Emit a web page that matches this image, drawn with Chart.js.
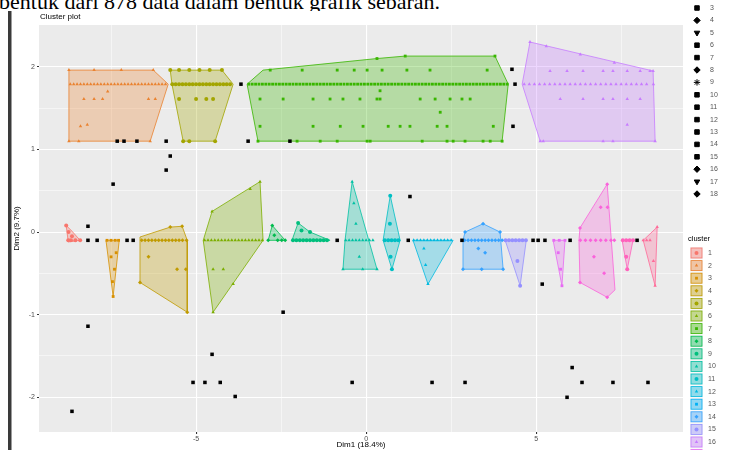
<!DOCTYPE html>
<html>
<head>
<meta charset="utf-8">
<script src="https://cdn.jsdelivr.net/npm/chart.js@4.4.1/dist/chart.umd.min.js"></script>
<style>
html, body { margin: 0; padding: 0; background: #fff; }
#wrap { position: relative; width: 733px; height: 450px; overflow: hidden; }
#doc { position: absolute; left: -1px; top: -11px; font: 22px "Liberation Serif", serif; color: #000; white-space: nowrap; }
#chart { position: absolute; left: 0; top: 0; }
</style>
</head>
<body>
<div id="wrap">
  <div id="doc">bentuk dari 878 data dalam bentuk grafik sebaran.</div>
  <canvas id="chart" width="733" height="450"></canvas>
</div>
<script>
// axis ticks (minor ones get a grid line but no label)
const xTicks = [-7.5, -5, -2.5, 0, 2.5, 5, 7.5];
const xMajor = [-5, 0, 5];
const yTicks = [-2, -1.5, -1, -0.5, 0, 0.5, 1, 1.5, 2];
const yMajor = [-2, -1, 0, 1, 2];

const plotTitle = 'Cluster plot';
const xTitle = 'Dim1 (18.4%)';
const yTitle = 'Dim2 (9.7%)';

const clusterIds = ['1','2','3','4','5','6','7','8','9','10','11','12','13','14','15','16','17','18','19','20'];
const shapeIds = ['3','4','5','6','7','8','9','10','11','12','13','14','15','16','17','18'];
const palette = ['#F8766D','#EA8331','#D89000','#C09B00','#A3A500','#7CAE00','#39B600','#00BB4E','#00BF7D','#00C1A3',
                 '#00BFC4','#00BAE0','#00B0F6','#35A2FF','#9590FF','#C77CFF','#E76BF3','#FA62DB','#FF62BC','#FF6A98'];

// hulls and member points, per cluster
const hull1 = [[-8.82,0.08],[-8.65,0.01],[-8.41,-0.10],[-8.76,-0.12]];
const pts1 = [[-8.82,0.08],[-8.75,0.0],[-8.65,-0.05],[-8.55,-0.1],[-8.76,-0.1],[-8.68,-0.1],[-8.41,-0.1]];

const hull2 = [[-8.74,1.96],[-6.26,1.96],[-5.82,1.79],[-6.35,1.10],[-8.74,1.10]];
const pts2 = [[-8.7,1.79],[-8.6,1.79],[-8.5,1.79],[-8.4,1.79],[-8.3,1.79],[-8.2,1.79],[-8.1,1.79],[-8.0,1.79],[-7.9,1.79],
  [-7.8,1.79],[-7.7,1.79],[-7.6,1.79],[-7.5,1.79],[-7.4,1.79],[-7.3,1.79],[-7.2,1.79],[-7.1,1.79],[-7.0,1.79],[-6.9,1.79],
  [-6.8,1.79],[-6.7,1.79],[-6.6,1.79],[-6.5,1.79],[-6.4,1.79],[-6.3,1.79],[-6.2,1.79],[-6.1,1.79],[-6.0,1.79],[-5.9,1.79],
  [-8.74,1.96],[-8.0,1.96],[-7.2,1.96],[-6.26,1.96],[-7.6,1.70],[-8.3,1.61],[-8.0,1.61],[-7.75,1.61],
  [-6.4,1.61],[-6.2,1.61],[-8.4,1.28],[-8.2,1.30],[-8.74,1.10],[-8.45,1.10],[-6.35,1.10]];

const hull3 = [[-7.65,-0.10],[-7.26,-0.10],[-7.44,-0.78]];
const pts3 = [[-7.62,-0.1],[-7.5,-0.1],[-7.38,-0.1],[-7.28,-0.1],[-7.5,-0.3],[-7.35,-0.25],[-7.4,-0.45],[-7.46,-0.6],[-7.44,-0.78]];

const hull4 = [[-6.65,-0.06],[-5.76,0.06],[-5.41,0.07],[-5.26,-0.10],[-5.26,-0.97],[-6.65,-0.61]];
const pts4 = [[-6.6,-0.1],[-6.5,-0.1],[-6.4,-0.1],[-6.3,-0.1],[-6.2,-0.1],[-6.1,-0.1],[-6.0,-0.1],[-5.9,-0.1],[-5.8,-0.1],
  [-5.7,-0.1],[-5.6,-0.1],[-5.5,-0.1],[-5.4,-0.1],[-5.28,-0.1],
  [-5.76,0.06],[-5.41,0.07],[-6.4,-0.3],[-5.56,-0.45],[-5.3,-0.45],[-6.65,-0.61],[-5.26,-0.97]];

const hull5 = [[-5.76,1.96],[-4.24,1.96],[-3.91,1.79],[-4.44,1.10],[-5.38,1.10],[-5.71,1.79]];
const pts5 = [[-5.7,1.79],[-5.6,1.79],[-5.5,1.79],[-5.4,1.79],[-5.3,1.79],[-5.2,1.79],[-5.1,1.79],[-5.0,1.79],[-4.9,1.79],
  [-4.8,1.79],[-4.7,1.79],[-4.6,1.79],[-4.5,1.79],[-4.4,1.79],[-4.3,1.79],[-4.2,1.79],[-4.1,1.79],[-4.0,1.79],
  [-5.76,1.96],[-5.5,1.96],[-5.2,1.96],[-4.9,1.96],[-4.6,1.96],[-4.24,1.96],
  [-5.5,1.61],[-5.0,1.61],[-4.7,1.61],[-4.5,1.61],[-5.38,1.10],[-5.2,1.10],[-4.44,1.10]];

const hull6 = [[-4.79,-0.10],[-4.53,0.25],[-3.12,0.61],[-3.03,-0.10],[-4.5,-0.97]];
const pts6 = [[-4.75,-0.1],[-4.65,-0.1],[-4.55,-0.1],[-4.45,-0.1],[-4.35,-0.1],[-4.25,-0.1],[-4.15,-0.1],[-4.05,-0.1],
  [-3.95,-0.1],[-3.85,-0.1],[-3.75,-0.1],[-3.65,-0.1],[-3.55,-0.1],[-3.45,-0.1],[-3.35,-0.1],[-3.25,-0.1],[-3.15,-0.1],[-3.05,-0.1],
  [-4.53,0.25],[-3.12,0.61],[-3.41,0.52],[-4.5,-0.45],[-4.2,-0.45],[-3.91,-0.63],[-4.5,-0.97]];

const hull7 = [[-3.5,1.79],[-3.03,1.96],[0.32,2.10],[1.15,2.13],[3.79,2.13],[4.18,1.79],[4.0,1.10],[-3.18,1.10]];
const pts7 = [[-3.45,1.79],[-3.35,1.79],[-3.25,1.79],[-3.15,1.79],[-3.05,1.79],[-2.95,1.79],[-2.85,1.79],[-2.75,1.79],
  [-2.65,1.79],[-2.55,1.79],[-2.45,1.79],[-2.35,1.79],[-2.25,1.79],[-2.15,1.79],[-2.05,1.79],[-1.95,1.79],[-1.85,1.79],
  [-1.75,1.79],[-1.65,1.79],[-1.55,1.79],[-1.45,1.79],[-1.35,1.79],[-1.25,1.79],[-1.15,1.79],[-1.05,1.79],[-0.95,1.79],
  [-0.85,1.79],[-0.75,1.79],[-0.65,1.79],[-0.55,1.79],[-0.45,1.79],[-0.35,1.79],[-0.25,1.79],[-0.15,1.79],[-0.05,1.79],
  [0.05,1.79],[0.15,1.79],[0.25,1.79],[0.35,1.79],[0.45,1.79],[0.55,1.79],[0.65,1.79],[0.75,1.79],[0.85,1.79],[0.95,1.79],
  [1.05,1.79],[1.15,1.79],[1.25,1.79],[1.35,1.79],[1.45,1.79],[1.55,1.79],[1.65,1.79],[1.75,1.79],[1.85,1.79],[1.95,1.79],
  [2.05,1.79],[2.15,1.79],[2.25,1.79],[2.35,1.79],[2.45,1.79],[2.55,1.79],[2.65,1.79],[2.75,1.79],[2.85,1.79],[2.95,1.79],
  [3.05,1.79],[3.15,1.79],[3.25,1.79],[3.35,1.79],[3.45,1.79],[3.55,1.79],[3.65,1.79],[3.75,1.79],[3.85,1.79],[3.95,1.79],
  [4.05,1.79],[4.15,1.79],
  [-2.82,1.96],[-1.88,1.96],[-0.85,1.96],[-0.35,1.96],[0.03,1.96],[0.47,1.96],[1.2,1.96],[1.88,1.96],[3.56,1.96],
  [0.32,2.10],[1.15,2.13],[3.79,2.13],
  [-3.12,1.61],[-2.44,1.61],[-1.56,1.61],[-1.06,1.61],[-0.68,1.61],[-0.18,1.61],[0.32,1.61],[0.41,1.61],[1.59,1.61],
  [2.03,1.61],[2.47,1.61],[2.82,1.61],[3.06,1.61],[0.41,1.71],[2.18,1.45],
  [-3.12,1.28],[-1.56,1.28],[-0.76,1.28],[-0.09,1.28],[0.65,1.28],[1.0,1.28],[1.29,1.28],[2.09,1.28],[2.38,1.28],[3.74,1.28],
  [-3.18,1.10],[-2.03,1.10],[-1.35,1.10],[-0.85,1.10],[0.03,1.10],[0.12,1.10],[1.65,1.10],[2.38,1.10],[2.56,1.10],
  [2.91,1.10],[3.44,1.10],[3.65,1.10],[4.0,1.10]];

const hull8 = [[-2.88,-0.10],[-2.76,0.08],[-2.38,-0.10]];
const pts8 = [[-2.88,-0.1],[-2.76,0.08],[-2.7,-0.04],[-2.6,-0.1],[-2.48,-0.1],[-2.38,-0.1]];

const hull9 = [[-2.18,-0.10],[-2.0,0.11],[-1.65,0.0],[-1.06,-0.10]];
const pts9 = [[-2.15,-0.1],[-2.05,-0.1],[-1.95,-0.1],[-1.85,-0.1],[-1.75,-0.1],[-1.65,-0.1],[-1.55,-0.1],[-1.45,-0.1],
  [-1.35,-0.1],[-1.25,-0.1],[-1.15,-0.1],[-2.0,0.11],[-1.65,0.0],[-1.9,0.02]];

const hull10 = [[-0.41,0.61],[0.32,-0.45],[-0.68,-0.45],[-0.62,-0.10]];
const pts10 = [[-0.41,0.61],[-0.36,0.35],[-0.3,0.1],[-0.6,-0.1],[-0.5,-0.1],[-0.4,-0.1],[-0.3,-0.1],[-0.2,-0.1],[-0.1,-0.1],
  [0.0,-0.1],[0.1,-0.1],[0.2,-0.1],[-0.2,-0.3],[0.32,-0.45],[-0.68,-0.45],[-0.1,-0.45]];

const hull11 = [[0.71,0.44],[1.0,-0.10],[0.76,-0.45],[0.5,-0.10]];
const pts11 = [[0.71,0.44],[0.7,0.1],[0.55,-0.1],[0.65,-0.1],[0.75,-0.1],[0.85,-0.1],[0.95,-0.1],[0.72,-0.3],[0.76,-0.45]];

const hull12 = [[1.38,-0.10],[2.56,-0.10],[1.82,-0.63]];
const pts12 = [[1.4,-0.1],[1.5,-0.1],[1.6,-0.1],[1.7,-0.1],[1.8,-0.1],[1.9,-0.1],[2.0,-0.1],[2.1,-0.1],[2.2,-0.1],[2.3,-0.1],
  [2.4,-0.1],[2.5,-0.1],[1.7,-0.2],[1.75,-0.4],[1.82,-0.63]];

const hull14 = [[2.85,-0.10],[2.91,0.0],[3.44,0.10],[3.94,0.0],[4.03,-0.45],[2.85,-0.45]];
const pts14 = [[2.9,-0.1],[3.0,-0.1],[3.1,-0.1],[3.2,-0.1],[3.3,-0.1],[3.4,-0.1],[3.5,-0.1],[3.6,-0.1],[3.7,-0.1],[3.8,-0.1],
  [3.9,-0.1],[4.0,-0.1],[3.44,0.1],[2.91,0.0],[3.94,0.0],
  [3.3,-0.2],[3.5,-0.25],[2.85,-0.45],[3.4,-0.45],[4.03,-0.45]];

const hull15 = [[4.09,-0.10],[4.71,-0.10],[4.53,-0.65]];
const pts15 = [[4.1,-0.1],[4.2,-0.1],[4.3,-0.1],[4.4,-0.1],[4.5,-0.1],[4.6,-0.1],[4.7,-0.1],[4.45,-0.35],[4.53,-0.65]];

const hull16 = [[4.82,2.30],[8.44,1.95],[8.5,1.10],[5.12,1.10],[4.59,1.79]];
const pts16 = [[4.65,1.79],[4.8,1.79],[4.95,1.79],[5.1,1.79],[5.25,1.79],[5.4,1.79],[5.55,1.79],[5.7,1.79],[5.85,1.79],
  [6.0,1.79],[6.15,1.79],[6.3,1.79],[6.45,1.79],[6.6,1.79],[6.75,1.79],[6.9,1.79],[7.05,1.79],[7.2,1.79],[7.35,1.79],
  [7.5,1.79],[7.65,1.79],[7.8,1.79],[7.95,1.79],[8.1,1.79],[8.25,1.79],[8.45,1.79],
  [5.41,1.95],[5.91,1.95],[6.38,1.95],[6.97,1.95],[7.26,1.95],[7.68,1.95],[8.06,1.95],[8.35,1.95],
  [4.82,2.30],[5.3,2.25],[6.3,2.15],[7.3,2.05],[8.44,1.95],
  [5.71,1.61],[6.38,1.61],[6.97,1.61],[7.26,1.61],[7.68,1.61],[8.06,1.61],[7.68,1.30],
  [5.12,1.10],[5.21,1.10],[6.97,1.10],[7.26,1.10],[8.5,1.10]];

const hull17 = [[5.5,-0.10],[5.85,-0.10],[5.76,-0.65]];
const pts17 = [[5.52,-0.1],[5.68,-0.1],[5.85,-0.1],[5.65,-0.25],[5.72,-0.45],[5.76,-0.65]];

const hull18 = [[6.26,-0.10],[6.29,0.05],[7.09,0.58],[7.32,-0.70],[7.09,-0.79],[6.29,-0.61]];
const pts18 = [[6.3,-0.1],[6.45,-0.1],[6.6,-0.1],[6.75,-0.1],[6.9,-0.1],[7.05,-0.1],[7.2,-0.1],[7.3,-0.1],
  [7.09,0.58],[6.9,0.3],[7.1,0.3],[6.7,-0.3],[7.0,-0.5],[6.29,-0.61],[7.09,-0.79],[6.29,0.05]];

const hull19 = [[7.53,-0.10],[7.85,-0.10],[7.68,-0.45]];
const pts19 = [[7.55,-0.1],[7.65,-0.1],[7.75,-0.1],[7.85,-0.1],[7.65,-0.3],[7.68,-0.45]];

const hull20 = [[8.15,-0.10],[8.56,0.06],[8.5,-0.65]];
const pts20 = [[8.15,-0.1],[8.25,-0.1],[8.35,-0.1],[8.56,0.06],[8.45,-0.35],[8.5,-0.65]];

// noise points (not in any cluster)
const noise = [[-3.68,1.79],[4.29,1.97],[4.38,1.79],[4.32,1.28],
  [-7.32,1.10],[-7.12,1.10],[-6.74,1.10],[-5.88,1.10],[-3.47,1.10],[-2.24,1.10],
  [-5.76,0.92],[-5.88,0.75],[-7.44,0.58],
  [-8.18,0.07],[-8.18,-0.10],[-7.91,-0.10],[-7.03,-0.10],[-6.85,-0.10],
  [-0.85,-0.10],[1.24,-0.10],[1.29,0.43],[2.82,-0.10],
  [4.91,-0.10],[5.06,-0.10],[5.26,-0.10],[5.18,-0.63],[6.0,-0.10],[7.97,-0.10],
  [-2.44,-0.97],[-8.18,-1.14],[-4.53,-1.48],[-5.09,-1.82],[-4.74,-1.82],[-4.29,-1.82],[-3.85,-1.99],[-8.65,-2.17],
  [-0.41,-1.82],[1.94,-1.82],[2.91,-1.82],
  [6.06,-1.64],[6.35,-1.82],[7.26,-1.82],[8.29,-1.82],[5.91,-2.0]];

// which cluster each hull belongs to
const groups = [
  [1, hull1, pts1], [2, hull2, pts2], [3, hull3, pts3], [4, hull4, pts4], [5, hull5, pts5],
  [6, hull6, pts6], [7, hull7, pts7], [8, hull8, pts8], [9, hull9, pts9], [10, hull10, pts10],
  [11, hull11, pts11], [12, hull12, pts12], [14, hull14, pts14], [15, hull15, pts15], [16, hull16, pts16],
  [17, hull17, pts17], [18, hull18, pts18], [19, hull19, pts19], [20, hull20, pts20]
];

const shapes = ['circle','triangle','rect','rectRot','circle','triangle','rect','rectRot','circle','triangle'];
const legendShapes = ['rect','rectRot','triangle','rect','rect','rectRot','star','rect','rect','rect','rect','rect','rect','rectRot','triangle','rectRot'];
const legendRot = [0,0,180,0,0,0,0,0,0,0,0,0,0,0,180,0];

const toXY = arr => arr.map(p => ({ x: p[0], y: p[1] }));

const datasets = [];
groups.forEach(([id, hull, pts]) => {
  const col = palette[id - 1];
  datasets.push({
    type: 'line',
    data: toXY(hull.concat([hull[0]])),
    borderColor: col,
    borderWidth: 0.8,
    backgroundColor: col + '4D',
    fill: 'shape',
    pointRadius: 0,
    tension: 0,
    order: 3
  });
  datasets.push({
    data: toXY(pts),
    pointStyle: shapes[(id - 1) % shapes.length],
    pointRadius: 2,
    backgroundColor: col,
    borderColor: col,
    borderWidth: 0,
    order: 2
  });
});
datasets.push({
  data: toXY(noise),
  pointStyle: 'rect',
  pointRadius: 2.5,
  backgroundColor: '#000',
  borderColor: '#000',
  borderWidth: 0,
  order: 1
});

const frame = {
  id: 'frame',
  beforeDraw(chart) {
    const { ctx, chartArea: a } = chart;
    ctx.save();
    ctx.fillStyle = '#fff';
    ctx.fillRect(11, 11, 722, 439);
    ctx.fillStyle = '#3a3a3a';
    ctx.fillRect(8, 11, 3.5, 439);
    ctx.fillStyle = '#EBEBEB';
    ctx.fillRect(a.left, a.top, a.right - a.left, a.bottom - a.top);
    ctx.restore();
  },
  afterDraw(chart) {
    const { ctx, chartArea: a } = chart;
    ctx.save();
    ctx.textBaseline = 'middle';
    ctx.fillStyle = '#000';
    ctx.font = '8px "Liberation Sans"';
    ctx.fillText(plotTitle, a.left + 1, 17);

    // shape legend (upper right)
    ctx.font = '7px "Liberation Sans"';
    shapeIds.forEach((lab, i) => {
      const y = 8 + i * 12.4;
      ctx.fillStyle = '#000';
      ctx.strokeStyle = '#000';
      Chart.helpers.drawPoint(ctx, { pointStyle: legendShapes[i], radius: 3.2, rotation: legendRot[i], borderWidth: 1 }, 697, y);
      ctx.fillStyle = '#555';
      ctx.fillText(lab, 710, y);
    });

    // colour legend (lower right)
    ctx.fillStyle = '#000';
    ctx.font = '7.5px "Liberation Sans"';
    ctx.fillText('cluster', 688, 239);
    ctx.font = '7px "Liberation Sans"';
    clusterIds.forEach((lab, i) => {
      const y = 253 + i * 12.6;
      const col = palette[i];
      ctx.fillStyle = '#F2F2F2';
      ctx.fillRect(690, y - 6, 13, 12);
      ctx.fillStyle = col + '66';
      ctx.strokeStyle = col;
      ctx.lineWidth = 0.8;
      ctx.fillRect(691, y - 5, 11, 10);
      ctx.strokeRect(691, y - 5, 11, 10);
      ctx.fillStyle = col;
      Chart.helpers.drawPoint(ctx, { pointStyle: shapes[i % shapes.length], radius: 2, rotation: 0, borderWidth: 0 }, 696.5, y);
      ctx.fillStyle = '#555';
      ctx.fillText(lab, 708, y);
    });
    ctx.restore();
  }
};

const gridWidth = (major) => (c) => major.includes(c.tick.value) ? 1.1 : 0.5;
const tickCol = (major) => (c) => major.includes(c.tick.value) ? '#333' : 'rgba(0,0,0,0)';

new Chart(document.getElementById('chart'), {
  type: 'scatter',
  data: { datasets: datasets },
  options: {
    responsive: false,
    animation: false,
    layout: { padding: { left: 12, top: 25, right: 50, bottom: 0 } },
    plugins: { legend: { display: false }, tooltip: { enabled: false } },
    scales: {
      x: {
        type: 'linear',
        min: -9.62,
        max: 9.32,
        afterBuildTicks: s => { s.ticks = xTicks.map(v => ({ value: v })); },
        afterFit: s => { s.height = 18; },
        border: { display: false },
        grid: { color: '#fff', lineWidth: gridWidth(xMajor), tickLength: 2, tickColor: tickCol(xMajor) },
        ticks: {
          autoSkip: false, maxRotation: 0, padding: 1,
          color: '#4D4D4D', font: { size: 7, family: 'Liberation Sans' },
          callback: v => xMajor.includes(v) ? String(v) : ''
        },
        title: { display: true, text: xTitle, color: '#000', font: { size: 8, family: 'Liberation Sans' }, padding: 0 }
      },
      y: {
        type: 'linear',
        min: -2.42,
        max: 2.506,
        afterBuildTicks: s => { s.ticks = yTicks.map(v => ({ value: v })); },
        afterFit: s => { s.width = 27; },
        border: { display: false },
        grid: { color: '#fff', lineWidth: gridWidth(yMajor), tickLength: 2, tickColor: tickCol(yMajor) },
        ticks: {
          autoSkip: false, padding: 2,
          color: '#4D4D4D', font: { size: 7, family: 'Liberation Sans' },
          callback: v => yMajor.includes(v) ? String(v) : ''
        },
        title: { display: true, text: yTitle, color: '#000', font: { size: 8, family: 'Liberation Sans' }, padding: 0 }
      }
    }
  },
  plugins: [frame]
});
</script>
</body>
</html>
